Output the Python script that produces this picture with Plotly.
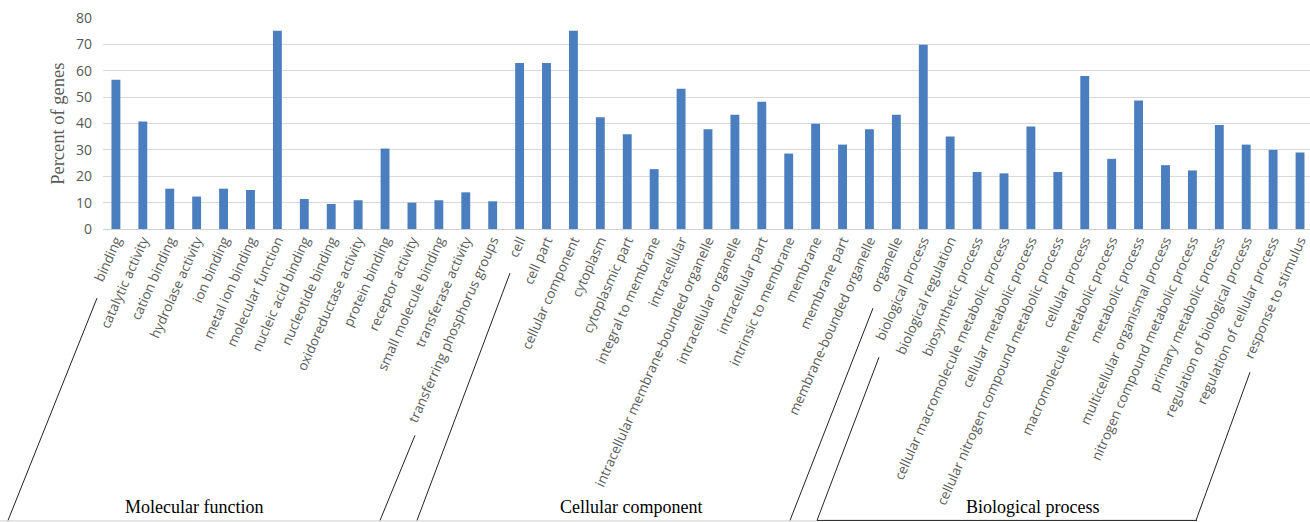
import plotly.graph_objects as go

mf_terms = ["binding", "catalytic activity", "cation binding", "hydrolase activity", "ion binding",
            "metal ion binding", "molecular function", "nucleic acid binding", "nucleotide binding",
            "oxidoreductase activity", "protein binding", "receptor activity", "small molecule binding",
            "transferase activity", "transferring phosphorus groups"]
mf_values = [56.6, 40.8, 15.3, 12.3, 15.3, 14.8, 75.2, 11.4, 9.5, 10.9, 30.5, 10.0, 10.9, 13.9, 10.5]

cc_terms = ["cell", "cell part", "cellular component", "cytoplasm", "cytoplasmic part",
            "integral to membrane", "intracellular", "intracellular membrane-bounded organelle",
            "intracellular organelle", "intracellular part", "intrinsic to membrane", "membrane",
            "membrane part", "membrane-bounded organelle", "organelle"]
cc_values = [62.9, 62.9, 75.2, 42.4, 35.9, 22.7, 53.2, 37.8, 43.3, 48.2, 28.6, 39.9, 32.0, 37.8, 43.3]

bp_terms = ["biological process", "biological regulation", "biosynthetic process",
            "cellular macromolecule metabolic process", "cellular metabolic process",
            "cellular nitrogen compound metabolic process", "cellular process",
            "macromolecule metabolic process", "metabolic process", "multicellular organismal process",
            "nitrogen compound metabolic process", "primary metabolic process",
            "regulation of biological process", "regulation of cellular process", "response to stimulus"]
bp_values = [69.9, 35.1, 21.6, 21.1, 38.9, 21.6, 58.0, 26.6, 48.7, 24.2, 22.2, 39.4, 32.0, 30.0, 29.0]

group_names = ["Molecular function", "Cellular component", "Biological process"]
y_ticks = [0, 10, 20, 30, 40, 50, 60, 70, 80]

categories = mf_terms + cc_terms + bp_terms
values = mf_values + cc_values + bp_values

W, H = 1310, 522
L, R, T, B = 103, 1310, 18.3, 229


def px(x):
    return (x - L) / (R - L)


def py(y):
    return (B - y) / (B - T)


fig = go.Figure(go.Bar(x=categories, y=values, marker=dict(color="#4A7EBF", line=dict(width=0)),
                       showlegend=False))

gray = "#595959"
fig.update_layout(
    width=W, height=H,
    margin=dict(l=L, r=W - R, t=T, b=H - B, autoexpand=False),
    paper_bgcolor="white", plot_bgcolor="white",
    bargap=0.67,
    xaxis=dict(type="category", range=[-0.48, 44.37], tickangle=-66, showgrid=False,
               showline=False, ticks="", tickfont=dict(family="Open Sans", size=13.5, color=gray),
               automargin=False),
    yaxis=dict(range=[0, 80], tickvals=y_ticks, showgrid=True, gridcolor="#d9d9d9", gridwidth=1,
               zeroline=True, zerolinecolor="#d0d0d0", zerolinewidth=1, showline=False, ticks="",
               ticklabelstandoff=10,
               tickfont=dict(family="Open Sans", size=14, color=gray), automargin=False),
)

# y-axis title
fig.add_annotation(text="Percent of genes", xref="paper", yref="paper", x=px(58), y=py(124),
                   textangle=-90, showarrow=False, xanchor="center", yanchor="middle",
                   font=dict(family="Liberation Serif", size=18.5, color=gray))

# group labels
for name, cx in zip(group_names, [194, 631, 1032]):
    fig.add_annotation(text=name, xref="paper", yref="paper", x=px(cx), y=py(507),
                       showarrow=False, xanchor="center", yanchor="middle",
                       font=dict(family="Liberation Serif", size=18, color="black"))

# bracket lines
segs = [
    ((97, 298), (8, 520)),
    ((415, 435), (380, 520)),
    ((510, 273), (417, 520)),
    ((873, 308), (790, 520)),
    ((879, 357), (817, 520)),
    ((1250, 372), (1196, 520)),
    ((817, 520), (1197, 520)),
]
for (x0, y0), (x1, y1) in segs:
    fig.add_shape(type="line", xref="paper", yref="paper", x0=px(x0), y0=py(y0), x1=px(x1), y1=py(y1),
                  line=dict(color="#222222", width=1))
fig.add_shape(type="line", xref="paper", yref="paper", x0=px(0), y0=py(520.5), x1=px(817), y1=py(520.5),
              line=dict(color="#d0d0d0", width=1), layer="below")

fig.write_html("out.html", config={"displayModeBar": False},
               post_script="document.body.style.margin='0';document.body.style.overflow='hidden';")
